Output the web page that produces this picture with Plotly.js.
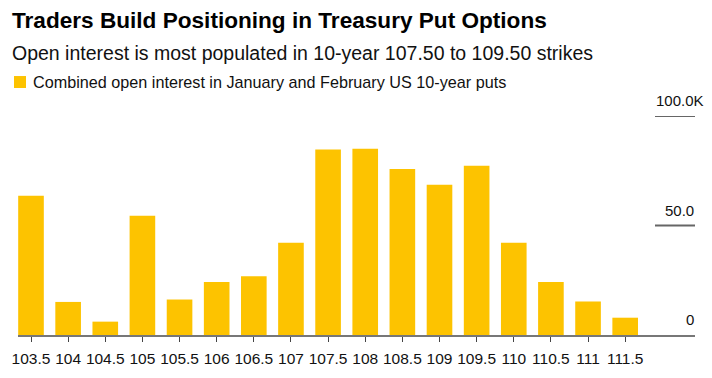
<!DOCTYPE html>
<html>
<head>
<meta charset="utf-8">
<script src="https://cdn.plot.ly/plotly-3.0.1.min.js"></script>
<style>
  html, body { margin: 0; padding: 0; background: #fff; }
  #chart { width: 712px; height: 378px; }
  #chart .legendtext { transform: translateX(-7px); }
</style>
</head>
<body>
<div id="chart"></div>
<script>
// ---- Data ----
const strikes = ['103.5','104','104.5','105','105.5','106','106.5','107','107.5','108','108.5','109','109.5','110','110.5','111','111.5'];
const openInterestK = [63.6, 15.1, 6.1, 54.5, 16.2, 24.2, 26.8, 42.1, 84.7, 85.0, 75.8, 68.6, 77.3, 42.1, 24.2, 15.3, 7.9];
const seriesName = 'Combined open interest in January and February US 10-year puts';
const yTickVals = [0, 50, 100];
const yTickText = ['0', '50.0', '100.0K'];
const titleText = 'Traders Build Positioning in Treasury Put Options';
const subtitleText = 'Open interest is most populated in 10-year 107.50 to 109.50 strikes';

const FONT = 'Liberation Sans, Arial, sans-serif';
const BAR = '#FDC300';

const trace = {
  type: 'bar',
  x: strikes,
  y: openInterestK,
  name: seriesName,
  marker: { color: BAR, line: { width: 0 } },
  hoverinfo: 'x+y'
};

// plot area: top 116px, bottom 335px
const pxToPaperY = py => (335 - py) / 219;

const annotations = [
  {
    xref: 'paper', yref: 'paper',
    x: (10 - 18) / 677, y: pxToPaperY(40),
    xanchor: 'left', yanchor: 'top',
    text: subtitleText, showarrow: false,
    font: { family: FONT, size: 19.5, color: '#111' }
  }
];
yTickVals.forEach((v, i) => {
  annotations.push({
    xref: 'paper', yref: 'y',
    x: 1, y: v,
    xanchor: 'right', yanchor: 'bottom',
    xshift: yTickText[i].endsWith('K') ? 11 : 1,
    yshift: 5,
    text: yTickText[i], showarrow: false,
    font: { family: FONT, size: 15, color: '#111' }
  });
});

const shapes = yTickVals.filter(v => v !== 0).map(v => ({
  type: 'line', xref: 'paper', yref: 'y',
  x0: (655 - 18) / 677, x1: 1, y0: v, y1: v,
  line: { color: '#666', width: 2 }
}));

const layout = {
  width: 712, height: 378,
  margin: { l: 18, r: 17, t: 116, b: 43 },
  paper_bgcolor: '#fff', plot_bgcolor: '#fff',
  font: { family: FONT, size: 15, color: '#111' },
  title: {
    text: '<b>' + titleText + '</b>',
    font: { family: FONT, size: 22.6, color: '#000' },
    xref: 'container', yref: 'container',
    x: 12 / 712, xanchor: 'left',
    y: 1 - 12 / 378, yanchor: 'top'
  },
  showlegend: true,
  legend: {
    xref: 'container', yref: 'container',
    x: 0, y: 1 - 65 / 378, xanchor: 'left', yanchor: 'top',
    orientation: 'h',
    font: { family: FONT, size: 16.2, color: '#111' },
    itemwidth: 30,
    bgcolor: 'rgba(0,0,0,0)'
  },
  bargap: 0.31,
  xaxis: {
    type: 'category',
    range: [-0.35, 17.88],
    showline: true, linecolor: '#777', linewidth: 2,
    ticks: 'outside', ticklen: 5, tickwidth: 1, tickcolor: '#444',
    ticklabelstandoff: 3,
    showgrid: false, zeroline: false,
    tickfont: { family: FONT, size: 15.5, color: '#111' },
    fixedrange: true
  },
  yaxis: {
    range: [0, 100],
    visible: false,
    fixedrange: true
  },
  annotations: annotations,
  shapes: shapes
};

Plotly.newPlot('chart', [trace], layout, { displayModeBar: false, staticPlot: true });
</script>
</body>
</html>
